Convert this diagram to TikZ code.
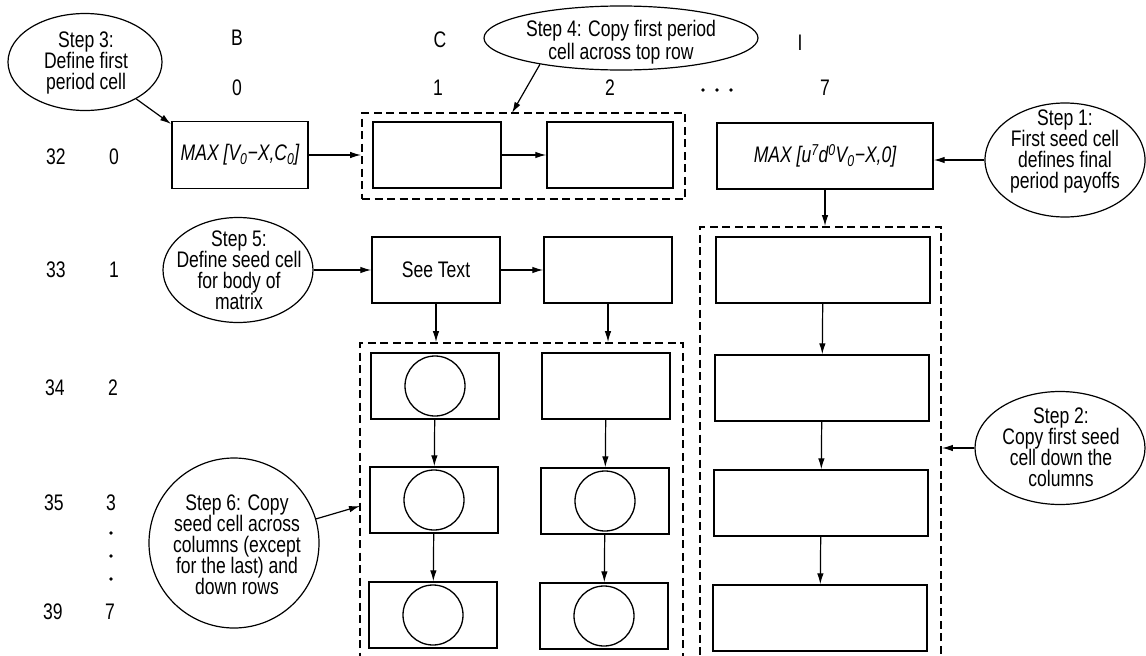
\documentclass[tikz,border=0pt]{standalone}
\usepackage{fontspec}
\setmainfont{Liberation Sans}[FakeStretch=0.78]
\usetikzlibrary{arrows.meta,shapes.geometric}
\begin{document}
\begin{tikzpicture}[x=1pt,y=-1pt,
  every node/.style={font=\fontsize{22.5}{21}\selectfont},
  cellbox/.style={draw, line width=1.4pt, minimum width=128pt, minimum height=66pt, inner sep=0pt},
  widebox/.style={cellbox, minimum width=214pt},
  grpbox/.style={draw, line width=1.8pt, dash pattern=on 8pt off 4.5pt, inner sep=0pt},
  bubble/.style={draw, ellipse, line width=1.2pt, inner sep=0pt},
  btext/.style={align=center, inner sep=0pt},
  dotmark/.style={circle, fill, inner sep=0pt, minimum size=3.6pt},
  ring/.style={draw, circle, line width=1.3pt, minimum size=60pt, inner sep=0pt},
  arr/.style={-{Latex[length=11pt,width=6.5pt]}, line width=1.2pt}]
\useasboundingbox (0,0) rectangle (1146,656);

% column headers
\node (hB) at (237,38) {B};
\node (hC) at (440,40) {C};
\node (hI) at (800,43) {I};
\node (n0) at (237,88) {0};
\node (n1) at (438,88) {1};
\node (n2) at (610,88) {2};
\node[dotmark] (hd1) at (703,90) {};
\node[dotmark] (hd2) at (717,90) {};
\node[dotmark] (hd3) at (731,90) {};
\node (n7) at (825,88) {7};

% row labels
\node (r32) at (56,157) {32};
\node (q0) at (114,157) {0};
\node (r33) at (56,270) {33};
\node (q1) at (114,270) {1};
\node (r34) at (55,388) {34};
\node (q2) at (113,388) {2};
\node (r35) at (54,503) {35};
\node (q3) at (111,503) {3};
\node[dotmark] (vd1) at (111,533) {};
\node[dotmark] (vd2) at (111,556) {};
\node[dotmark] (vd3) at (111,579) {};
\node (r39) at (53,612) {39};
\node (q7) at (110,612) {7};

% dashed groups
\node[grpbox, minimum width=323pt, minimum height=86pt] (dtop) at (523.5,156) {};
\node[grpbox, minimum width=323pt, minimum height=357pt] (dmid) at (521.5,521.5) {};
\node[grpbox, minimum width=241pt, minimum height=473pt] (dright) at (820.5,463.5) {};

% row 0
\node[cellbox, minimum width=136pt, minimum height=67pt] (b0) at (240,155) {\itshape MAX [V\textsubscript{0}−X,C\textsubscript{0}]};
\node[cellbox] (c1r0) at (437,155) {};
\node[cellbox, minimum width=126pt] (c2r0) at (610,155) {};
\node[widebox, minimum width=216pt] (i0) at (825,156) {\itshape MAX [u\textsuperscript{7}d\textsuperscript{0}V\textsubscript{0}−X,0]};

% row 1
\node[cellbox] (c1r1) at (436,270) {See Text};
\node[cellbox] (c2r1) at (608,270) {};
\node[widebox] (i1) at (823,270) {};

% rows 2-4
\node[cellbox] (c1r2) at (435,386) {};
\node[cellbox] (c2r2) at (606,386) {};
\node[widebox] (i2) at (822,388) {};
\node[cellbox] (c1r3) at (434,500) {};
\node[cellbox] (c2r3) at (605,501) {};
\node[widebox] (i3) at (821,503) {};
\node[cellbox] (c1r4) at (433,615) {};
\node[cellbox] (c2r4) at (604,616) {};
\node[widebox] (i4) at (820,618) {};

\node[ring] (o12) at (c1r2) {};
\node[ring] (o13) at (c1r3) {};
\node[ring] (o14) at (c1r4) {};
\node[ring] (o23) at (c2r3) {};
\node[ring] (o24) at (c2r4) {};

% callouts
\node[bubble, minimum width=154pt, minimum height=97pt] (s3) at (85,62) {};
\node[btext] (s3t) at (86,63) {Step 3:\\Define first\\period cell};
\node[bubble, minimum width=274pt, minimum height=64pt] (s4) at (621,38) {};
\node[btext] (s4t) at (621,42) {Step 4: Copy first period\\[2pt]cell across top row};
\node[bubble, minimum width=160pt, minimum height=114pt] (s1) at (1065,160) {};
\node[btext] (s1t) at (1065,151) {Step 1:\\First seed cell\\defines final\\period payoffs};
\node[bubble, minimum width=150pt, minimum height=105pt] (s5) at (238,270) {};
\node[btext] (s5t) at (239,270) {Step 5:\\Define seed cell\\for body of\\matrix};
\node[bubble, minimum width=170pt, minimum height=113pt] (s2) at (1060,448) {};
\node[btext] (s2t) at (1061,447) {Step 2:\\Copy first seed\\cell down the\\columns};
\node[draw, circle, line width=1.2pt, minimum size=170pt, inner sep=0pt] (s6) at (234,543) {};
\node[btext] (s6t) at (237,545) {Step 6: Copy\\seed cell across\\columns (except\\for the last) and\\down rows};

\coordinate (t3) at (171,124);
\coordinate (t4) at (512,113);
\coordinate (t6) at (360,506);

% connectors
\draw[arr] (s3) -- (t3);
\draw[arr] (s4.198) -- (t4);
\draw[arr] (b0.east) -- (b0.east -| dtop.west);
\draw[arr] (c1r0) -- (c2r0);
\draw[arr] (s1.west) -- (s1.west -| i0.east);
\draw[arr] (i0.south) -- (i0.south |- dright.north);
\draw[arr] (s5) -- (c1r1);
\draw[arr] (c1r1) -- (c2r1);
\draw[arr] (c1r1.south) -- (c1r1.south |- dmid.north);
\draw[arr] (c2r1.south) -- (c2r1.south |- dmid.north);
\draw[arr] (c1r2) -- (c1r3);
\draw[arr] (c1r3) -- (c1r4);
\draw[arr] (c2r2) -- (c2r3);
\draw[arr] (c2r3) -- (c2r4);
\draw[arr] (i1) -- (i2);
\draw[arr] (i2) -- (i3);
\draw[arr] (i3) -- (i4);
\draw[arr] (s2.west) -- (s2.west -| dright.east);
\draw[arr] (s6) -- (t6);
\end{tikzpicture}
\end{document}
